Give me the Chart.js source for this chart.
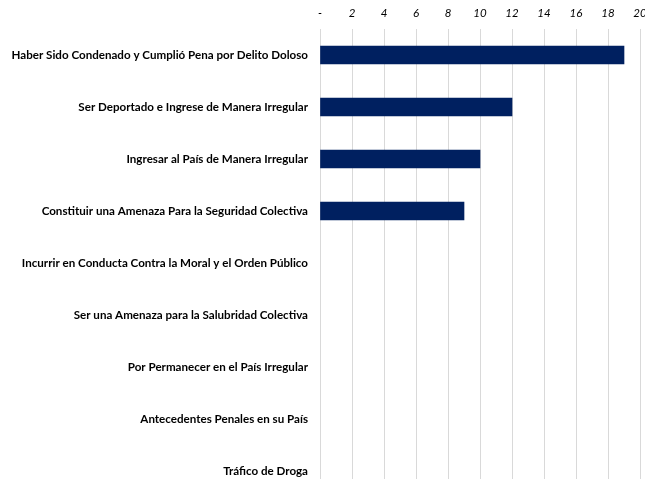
<!DOCTYPE html>
<html>
<head>
<meta charset="utf-8">
<script src="https://cdn.jsdelivr.net/npm/chart.js@4/dist/chart.umd.min.js"></script>
<style>
html,body{margin:0;padding:0;overflow:hidden;background:#fff;width:645px;height:479px;}
canvas{display:block;}
</style>
</head>
<body>
<canvas id="c" width="645" height="497"></canvas>
<script>
const categories = [
  "Haber Sido Condenado y Cumplió Pena por Delito Doloso",
  "Ser Deportado e Ingrese de Manera Irregular",
  "Ingresar al País de Manera Irregular",
  "Constituir una Amenaza Para la Seguridad Colectiva",
  "Incurrir en Conducta Contra la Moral y el Orden Público",
  "Ser una Amenaza para la Salubridad Colectiva",
  "Por Permanecer en el País Irregular",
  "Antecedentes Penales en su País",
  "Tráfico de Droga"
];
const values = [19, 12, 10, 9, 0, 0, 0, 0, 0];
const tickMax = 20;
const tickStep = 2;

new Chart(document.getElementById('c'), {
  type: 'bar',
  data: {
    labels: categories,
    datasets: [{
      data: values,
      backgroundColor: ctx => (ctx.raw === 0 ? 'rgba(0,0,0,0)' : '#002060'),
      borderWidth: 0,
      barThickness: 18
    }]
  },
  options: {
    indexAxis: 'y',
    responsive: false,
    animation: false,
    layout: { padding: { left: 0, right: 5, top: 0, bottom: 0 } },
    plugins: { legend: { display: false }, tooltip: { enabled: false } },
    scales: {
      x: {
        position: 'top',
        min: 0,
        max: tickMax,
        ticks: {
          stepSize: tickStep,
          color: '#000',
          padding: 9,
          font: { family: 'Lato', size: 11.5, style: 'italic' },
          callback: v => v === 0 ? '-' : v
        },
        grid: { color: '#d9d9d9', drawTicks: false, lineWidth: 1 },
        border: { display: false },
        afterFit: s => { s.height = 29; s.paddingLeft = 0; s.paddingRight = 0; }
      },
      y: {
        ticks: {
          color: '#000',
          padding: 12,
          font: { family: 'Lato', size: 11.6, weight: 'bold' }
        },
        grid: { display: false, drawTicks: false },
        border: { display: false },
        afterFit: s => { s.width = 320; s.paddingTop = 0; s.paddingBottom = 0; }
      }
    }
  }
});
</script>
</body>
</html>
